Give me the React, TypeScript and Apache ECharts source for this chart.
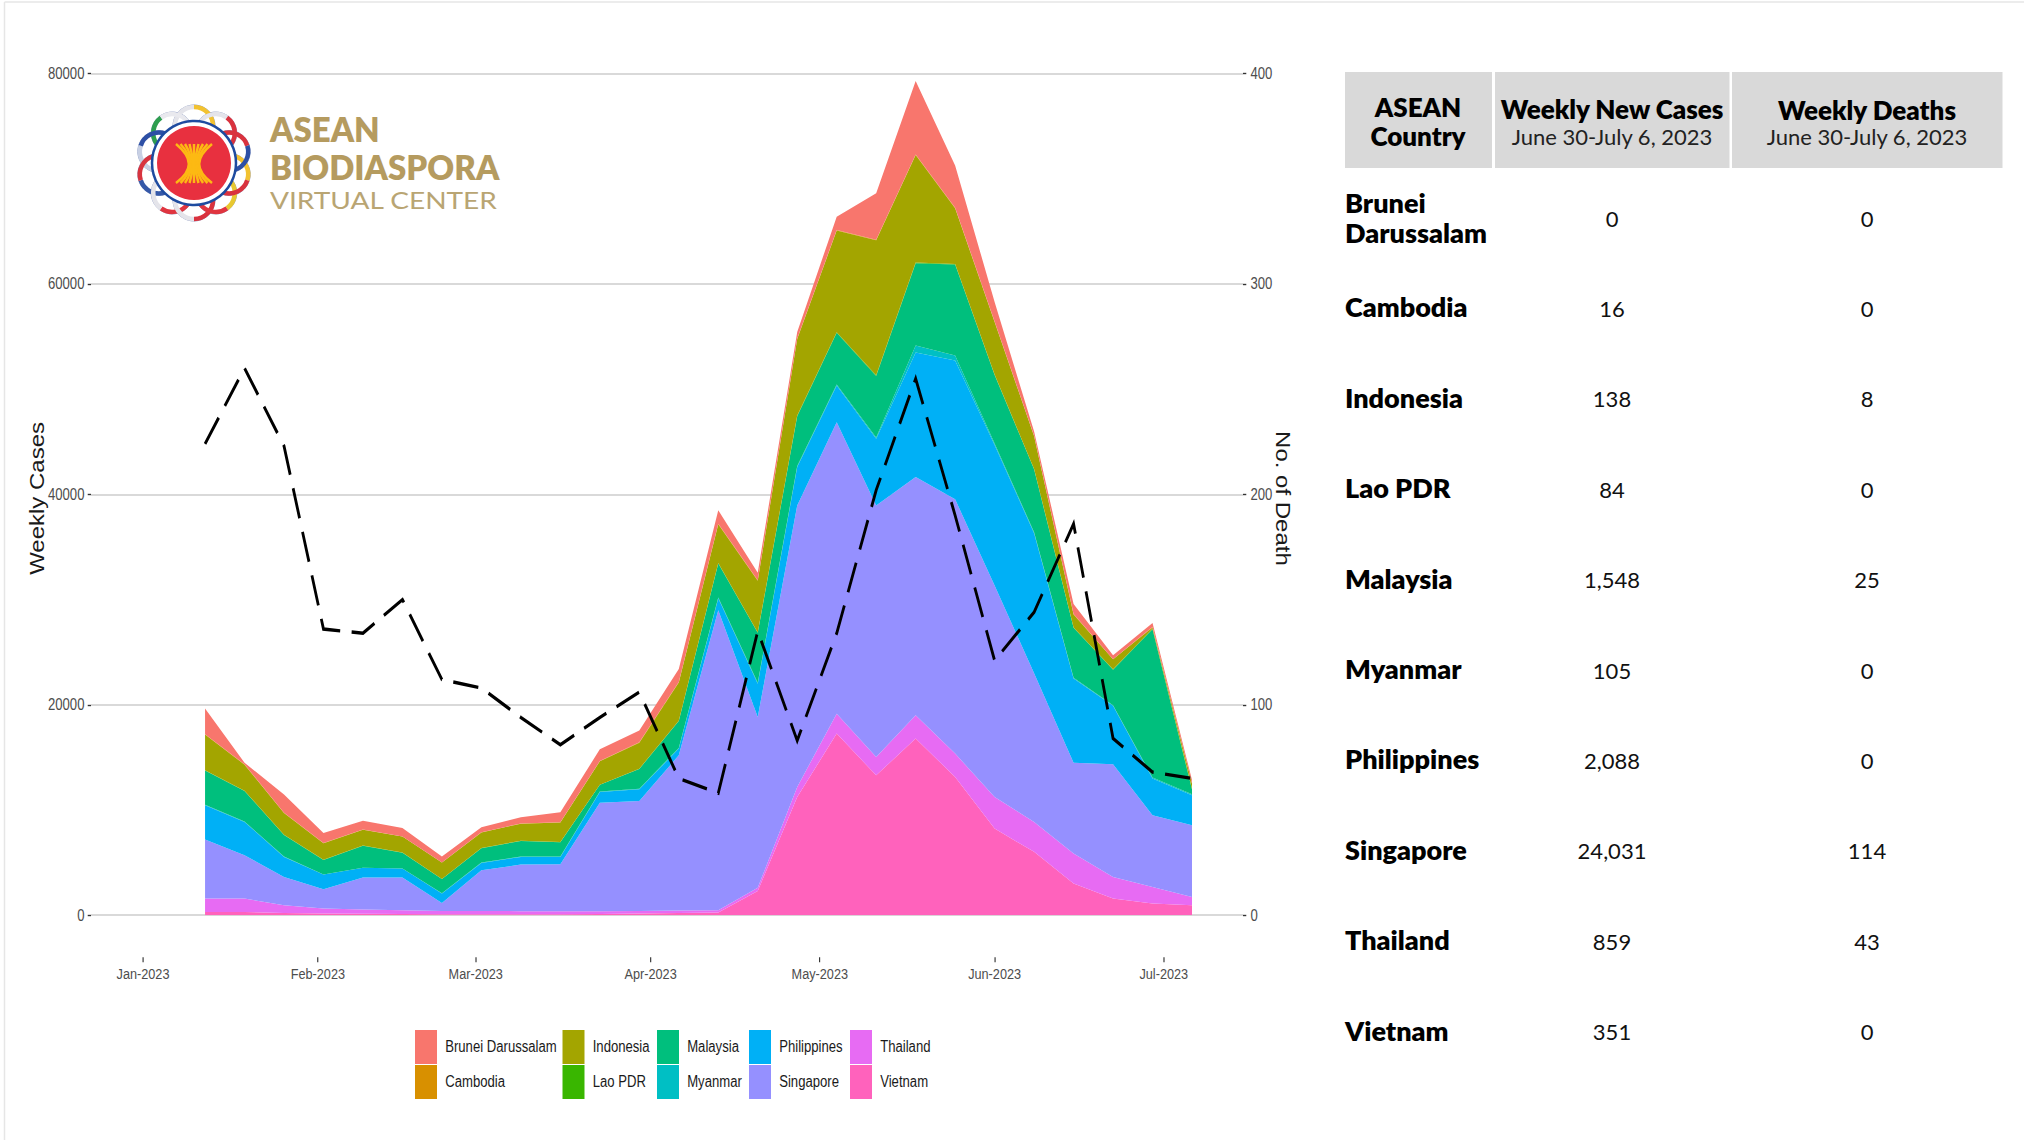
import React, { useEffect, useRef } from "react";
import * as echarts from "echarts";

const weeks = ["2023-01-12","2023-01-19","2023-01-26","2023-02-02","2023-02-09","2023-02-16","2023-02-23","2023-03-02","2023-03-09","2023-03-16","2023-03-23","2023-03-30","2023-04-06","2023-04-13","2023-04-20","2023-04-27","2023-05-04","2023-05-11","2023-05-18","2023-05-25","2023-06-01","2023-06-08","2023-06-15","2023-06-22","2023-06-29","2023-07-06"];

const brunei = [2440,160,1740,950,855,790,570,480,605,950,1110,1110,1240,1270,730,630,1270,4430,6970,4020,1850,400,950,370,380,330];
const cambodia = [40,30,30,20,20,20,10,20,20,20,30,40,40,50,40,40,50,50,60,60,50,40,30,20,50,16];
const indonesia = [3387,2470,2060,1585,1485,1520,1550,1490,1615,1870,2220,2470,3640,3700,4910,7280,9660,12830,10220,5290,5000,3120,1240,950,120,470];
const laoPdr = [30,30,20,20,20,10,10,20,20,20,20,30,30,40,40,50,60,60,60,50,40,30,30,30,40,84];
const malaysia = [3263,2910,2060,1365,2090,1490,1360,1360,1490,1360,630,1870,2560,3230,4750,4750,4910,5850,7830,8650,6500,5980,4760,3380,14100,441];
const myanmar = [40,30,30,20,20,20,20,30,30,30,40,60,60,80,80,90,100,120,650,470,150,100,60,60,80,105];
const philippines = [3260,3170,1900,1390,920,850,890,695,730,695,1020,1110,640,1140,3170,3650,3480,6340,11840,13200,13350,13300,8000,5550,3500,2850];
const singapore = [5607,4117,2690,1840,3040,3105,760,3865,4430,4465,10320,10450,14750,28505,16240,26760,27710,23910,22660,24170,20110,14130,8640,10710,6810,6810];
const thailand = [1283,1283,750,480,410,355,310,310,280,280,260,260,250,225,300,950,1900,1740,2215,2220,3010,2850,2850,2060,1580,790];
const vietnam = [300,300,200,150,130,120,100,100,100,100,120,150,200,250,2300,11240,17260,13300,16785,13140,8230,6020,3010,1580,1110,950];
const deaths = [224,260,223,136,134,150,112,108,94,81,94,106,65,58,135,83,134,202,255,190,121,144,186,84,68,65];

const monthNames = ["Jan","Feb","Mar","Apr","May","Jun","Jul","Aug","Sep","Oct","Nov","Dec"];

const countries = ["Brunei Darussalam","Cambodia","Indonesia","Lao PDR","Malaysia","Myanmar","Philippines","Singapore","Thailand","Vietnam"];
const tableCases = ["0","16","138","84","1,548","105","2,088","24,031","859","351"];
const tableDeaths = ["0","0","8","0","25","0","0","114","43","0"];

const stackOrder: [string, number[], string][] = [
  ["Vietnam", vietnam, "#FF62BC"],
  ["Thailand", thailand, "#E76BF3"],
  ["Singapore", singapore, "#9590FF"],
  ["Philippines", philippines, "#00B0F6"],
  ["Myanmar", myanmar, "#00BFC4"],
  ["Malaysia", malaysia, "#00BF7D"],
  ["Lao PDR", laoPdr, "#39B600"],
  ["Indonesia", indonesia, "#A3A500"],
  ["Cambodia", cambodia, "#D89000"],
  ["Brunei Darussalam", brunei, "#F8766D"],
];

// The plot in the reference is squeezed horizontally, its text included.
const S = 0.82;
const SANS = '"Liberation Sans", Arial, sans-serif';
const TBL = "Lato, sans-serif";

function txt(text: string, x: number, y: number, size: number, weight: any, fill: string, align = "center", scaleX = 1, family = TBL) {
  return { type: "text", x, y, scaleX, silent: true,
    style: { text, fill, fontSize: size, fontWeight: weight, fontFamily: family, textAlign: align, textVerticalAlign: "middle" } };
}

function logo() {
  const cx = 194, cy = 163;
  const out: any[] = [];
  const petals: [number, string, string][] = [
    [-90, "#e4e4ea", "#F2C230"], [-126, "#2E9E4F", "#e9e9ee"], [-162, "#C8D0E4", "#2D4FA5"],
    [162, "#3558A8", "#D8343F"], [126, "#E0353F", "#e4e4ea"], [90, "#D9323E", "#e4e4ea"],
    [54, "#E8C830", "#E0353F"], [18, "#F2C230", "#D9323E"], [-18, "#D9323E", "#2D4FA5"], [-54, "#e4e4ea", "#D9323E"],
  ];
  const rad = (d: number) => (d * Math.PI) / 180;
  petals.forEach(([deg]) => {
    const a = rad(deg);
    out.push({ type: "circle", silent: true, shape: { cx: cx + 37 * Math.cos(a), cy: cy + 37 * Math.sin(a), r: 21 },
      style: { fill: "none", stroke: "#8E9CC4", lineWidth: 1 } });
  });
  petals.forEach(([deg, c1, c2]) => {
    const a = rad(deg);
    const px = cx + 37 * Math.cos(a), py = cy + 37 * Math.sin(a);
    out.push({ type: "arc", silent: true, shape: { cx: px, cy: py, r: 19, startAngle: a - 1.6, endAngle: a, clockwise: true },
      style: { fill: "none", stroke: c1, lineWidth: 4.5 } });
    out.push({ type: "arc", silent: true, shape: { cx: px, cy: py, r: 19, startAngle: a, endAngle: a + 1.6, clockwise: true },
      style: { fill: "none", stroke: c2, lineWidth: 4.5 } });
  });
  out.push({ type: "circle", silent: true, shape: { cx, cy, r: 42 }, style: { fill: "#ffffff", stroke: "#1E4BA0", lineWidth: 2.5 } });
  out.push({ type: "circle", silent: true, shape: { cx, cy, r: 37 }, style: { fill: "#E8303F" } });
  for (let i = 0; i < 9; i++) {
    const d = -18 + i * 4.5;
    out.push({ type: "bezierCurve", silent: true,
      shape: { x1: cx + d, y1: 144, cpx1: cx + d * 0.05, cpy1: 158, cpx2: cx + d * 0.05, cpy2: 170, x2: cx + d, y2: 183 },
      style: { fill: "none", stroke: "#FDB913", lineWidth: 2.5 } });
  }
  out.push(txt("ASEAN", 270, 129, 33, 800, "#B59B5F", "left"));
  out.push(txt("BIODIASPORA", 270, 167, 33, 800, "#B59B5F", "left"));
  out.push(txt("VIRTUAL CENTER", 270, 200, 23, 400, "#B9A573", "left", 1.22));
  return out;
}

function table() {
  const out: any[] = [];
  [[1345, 147], [1495, 234.5], [1732, 270.5]].forEach(([x, w]) =>
    out.push({ type: "rect", silent: true, shape: { x, y: 72, width: w, height: 96 }, style: { fill: "#D9D9D9" } }));
  out.push(txt("ASEAN", 1418, 107, 26, 800, "#000"));
  out.push(txt("Country", 1418, 136, 26, 800, "#000"));
  out.push(txt("Weekly New Cases", 1612, 109, 26, 800, "#000"));
  out.push(txt("June 30-July 6, 2023", 1612, 136, 22, 400, "#222"));
  out.push(txt("Weekly Deaths", 1867, 110, 26, 800, "#000"));
  out.push(txt("June 30-July 6, 2023", 1867, 136, 22, 400, "#222"));
  countries.forEach((c, i) => {
    const y = 218 + i * 90.4;
    if (i === 0) {
      out.push(txt("Brunei", 1345, 202, 27, 800, "#000", "left"));
      out.push(txt("Darussalam", 1345, 232, 27, 800, "#000", "left"));
    } else {
      out.push(txt(c, 1345, y - 1.5, 27, 800, "#000", "left"));
    }
    out.push(txt(tableCases[i], 1612, y, 22, 400, "#111"));
    out.push(txt(tableDeaths[i], 1867, y, 22, 400, "#111"));
  });
  return out;
}

const legendCols: [number, string[]][] = [
  [415, ["Brunei Darussalam", "Cambodia"]],
  [562.5, ["Indonesia", "Lao PDR"]],
  [657, ["Malaysia", "Myanmar"]],
  [749, ["Philippines", "Singapore"]],
  [850, ["Thailand", "Vietnam"]],
];

export default function App() {
  const plotRef = useRef<HTMLDivElement>(null);
  const sideRef = useRef<HTMLDivElement>(null);
  useEffect(() => {
    const chart = echarts.init(plotRef.current!, null, { renderer: "svg" });
    const side = echarts.init(sideRef.current!, null, { renderer: "svg" });
    chart.setOption({
      animation: false,
      grid: { left: 91 / S, width: (1243 - 91) / S, top: 73.6, height: 841.6, containLabel: false },
      legend: legendCols.map(([left, names]) => ({
        left: left / S, top: 1030, orient: "vertical", padding: 0, itemGap: 1, itemWidth: 22 / S, itemHeight: 34,
        icon: "rect", selectedMode: false, data: names,
        textStyle: { fontFamily: SANS, fontSize: 16, color: "#1a1a1a", padding: [0, 0, 0, 5] },
      })),
      xAxis: {
        type: "time",
        min: "2022-12-22 18:40:00",
        max: "2023-07-15 01:00:00",
        minInterval: 28 * 86400000,
        maxInterval: 31 * 86400000,
        offset: 42,
        axisLine: { show: false, onZero: false },
        splitLine: { show: false },
        axisTick: { show: true, length: 5, lineStyle: { color: "#333", width: 1.4 } },
        axisLabel: {
          margin: 8, fontFamily: SANS, fontSize: 15.5, color: "#4D4D4D", hideOverlap: false,
          showMinLabel: false, showMaxLabel: false,
          formatter: (v: number) => { const d = new Date(v); return monthNames[d.getMonth()] + "-" + d.getFullYear(); },
        },
      },
      yAxis: [
        {
          type: "value", min: 0, max: 80000, interval: 20000,
          name: "Weekly Cases", nameLocation: "middle", nameGap: 54, nameRotate: 90, nameMoveOverlap: false,
          nameTextStyle: { fontFamily: SANS, fontSize: 24, color: "#1a1a1a", padding: [0, 8, 0, 0] },
          axisLine: { show: false },
          axisTick: { show: true, length: 4, lineStyle: { color: "#333", width: 1.4 } },
          axisLabel: { margin: 8, fontFamily: SANS, fontSize: 16, color: "#4D4D4D", formatter: (v: number) => String(v) },
          splitLine: { show: true, lineStyle: { color: "#D9D9D9", width: 1.8 } },
        },
        {
          type: "value", min: 0, max: 400, interval: 100, position: "right",
          name: "No. of Death", nameLocation: "middle", nameGap: 37, nameRotate: -90, nameMoveOverlap: false,
          nameTextStyle: { fontFamily: SANS, fontSize: 24, color: "#1a1a1a", padding: [0, 0, 0, 8] },
          axisLine: { show: false },
          axisTick: { show: true, length: 4, lineStyle: { color: "#333", width: 1.4 } },
          axisLabel: { margin: 9, fontFamily: SANS, fontSize: 16, color: "#4D4D4D", formatter: (v: number) => String(v) },
          splitLine: { show: false },
        },
      ],
      series: [
        ...stackOrder.map(([name, vals, color]) => ({
          name, type: "line", stack: "cases", symbol: "none", silent: true,
          data: weeks.map((w, i) => [w, vals[i]]),
          itemStyle: { color },
          lineStyle: { width: 0, color },
          areaStyle: { color, opacity: 1 },
          z: 2,
        })),
        {
          name: "No. of Death", type: "line", yAxisIndex: 1, symbol: "none", silent: true,
          data: weeks.map((w, i) => [w, deaths[i]]),
          lineStyle: { color: "#000", width: 3.4, type: [31, 14], join: "miter" },
          z: 5,
        },
      ],
    });
    side.setOption({
      animation: false,
      graphic: [
        { type: "line", silent: true, shape: { x1: 4.5, y1: 2, x2: 4.5, y2: 1140 }, style: { stroke: "#E6E6E6", lineWidth: 1.5 } },
        { type: "line", silent: true, shape: { x1: 4.5, y1: 2, x2: 2024, y2: 2 }, style: { stroke: "#E6E6E6", lineWidth: 1.5 } },
        ...logo(),
        ...table(),
      ],
    });
    return () => { chart.dispose(); side.dispose(); };
  }, []);
  return (
    <div style={{ position: "absolute", left: 0, top: 0, width: 2024, height: 1140, overflow: "hidden", background: "#fff" }}>
      <div ref={plotRef} style={{ position: "absolute", left: 0, top: 0, width: 2024 / S, height: 1140, transform: `scaleX(${S})`, transformOrigin: "0 0" }} />
      <div ref={sideRef} style={{ position: "absolute", left: 0, top: 0, width: 2024, height: 1140, pointerEvents: "none" }} />
    </div>
  );
}
